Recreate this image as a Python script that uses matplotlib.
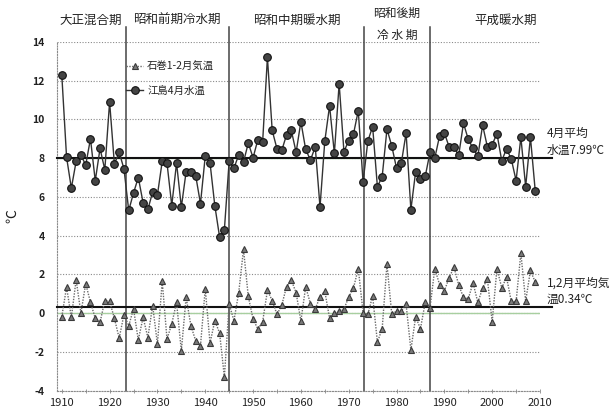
import numpy as np
import matplotlib
matplotlib.use('Agg')
import matplotlib.pyplot as plt

plt.rcParams['font.family'] = ['Noto Sans CJK JP', 'DejaVu Sans']

# 年
years = np.arange(1910, 2010)

# 江島4月水温 (℃)
water_apr = [
    12.3, 8.05, 6.45, 7.83, 8.17, 7.64, 9.0, 6.83, 8.5, 7.4,
    10.9, 7.7, 8.3, 7.45, 5.3, 6.2, 7.0, 5.7, 5.35, 6.25,
    6.1, 7.83, 7.75, 5.55, 7.75, 5.47, 7.3, 7.3, 7.1, 5.65,
    8.1, 7.75, 5.55, 3.93, 4.3, 7.85, 7.48, 8.17, 7.8, 8.78,
    8.02, 8.95, 8.83, 13.2, 9.43, 8.48, 8.4, 9.2, 9.43, 8.3,
    9.88, 8.45, 7.9, 8.58, 5.48, 8.88, 10.7, 8.24, 11.85, 8.34,
    8.9, 9.25, 10.45, 6.76, 8.88, 9.63, 6.52, 7.05, 9.5, 8.63,
    7.48, 7.74, 9.3, 5.34, 7.3, 6.9, 7.06, 8.3, 8.0, 9.15,
    9.3, 8.58, 8.55, 8.15, 9.8, 8.97, 8.5, 8.1, 9.7, 8.58,
    8.7, 9.26, 7.86, 8.48, 7.95, 6.84, 9.08, 6.53, 9.08, 6.32,
]

# 石巻1-2月気温 (℃)
air_janfeb = [
    -0.18, 1.34, -0.22, 1.72, 0.0, 1.52, 0.56, -0.27, -0.48, 0.65,
    0.61, -0.27, -1.29, -0.08, -0.65, 0.22, -1.39, -0.22, -1.26, 0.39,
    -1.6, 1.65, -1.34, -0.56, 0.56, -1.95, 0.82, -0.65, -1.43, -1.69,
    1.26, -1.55, -0.39, -1.03, -3.3, 0.46, -0.39, 1.06, 3.29, 0.86,
    -0.31, -0.82, -0.45, 1.17, 0.65, -0.07, 0.41, 1.37, 1.7, 1.05,
    -0.41, 1.36, 0.48, 0.21, 0.84, 1.13, -0.27, 0.0, 0.12, 0.21,
    0.82, 1.3, 2.3, 0.03, -0.07, 0.89, -1.5, -0.8, 2.52, -0.05,
    0.1, 0.1, 0.45, -1.9, -0.19, -0.81, 0.56, 0.27, 2.3, 1.47,
    1.15, 1.82, 2.38, 1.45, 0.81, 0.74, 1.56, 0.55, 1.29, 1.76,
    -0.45, 2.3, 1.3, 1.85, 0.6, 0.6, 3.1, 0.61, 2.2, 1.6,
]

water_mean = 7.99
air_mean = 0.34

period_bounds = [1923.4, 1945.0, 1973.3, 1987.0]
xticks = np.arange(1910, 2011, 10)
yticks = np.arange(-4, 15, 2)

fig = plt.figure(figsize=(6.11, 4.11), dpi=100)
ax = fig.add_axes([57 / 611, 1 - 390.6 / 411, (540 - 57) / 611, 348.7 / 411])

txt = '#222222'

# grid
for v in yticks:
    ax.axhline(v, color='#8a8a8a', lw=0.8, ls=(0, (1, 1.5)), zorder=1)
ax.axhline(0, color='#a8cfa0', lw=1.0, zorder=1.2)
ax.axhline(8, color='#a8cfa0', lw=1.0, zorder=1.2)

# 期間の区切り
for b in period_bounds:
    ax.plot([b, b], [-4, 14.75], color='#444444', lw=1.1, clip_on=False, zorder=2)

# 平均線
ax.plot([1909.0, 2012.5], [water_mean, water_mean], color='#111111', lw=1.5,
        clip_on=False, zorder=3)
ax.plot([1909.0, 2012.5], [air_mean, air_mean], color='#111111', lw=1.5,
        clip_on=False, zorder=3)

ax.plot(years, air_janfeb, color='#6a6a6a', lw=1.0, ls=(0, (1, 1)),
        marker='^', ms=5, mfc='#7a7a7a', mec='#3a3a3a', mew=0.8,
        label='石巻1-2月気温', zorder=4)
ax.plot(years, water_apr, color='#333333', lw=1.0,
        marker='o', ms=5.5, mfc='#444444', mec='#111111', mew=0.8,
        label='江島4月水温', zorder=5)

ax.set_xlim(1909.0, 2010.0)
ax.set_ylim(-4, 14)
ax.set_xticks(np.arange(1910, 2011, 5), minor=True)
ax.set_xticks(xticks)
ax.set_xticklabels([str(t) for t in xticks], fontsize=8, color=txt)
ax.set_yticks(yticks)
ax.set_yticklabels([str(t) for t in yticks], fontsize=7.5, color=txt,
                   fontweight='bold')
ax.tick_params(axis='y', length=0, pad=9)
ax.tick_params(axis='x', which='both', length=2.5, width=0.6,
               color='#888888', direction='inout', pad=4)

for s in ['top', 'right']:
    ax.spines[s].set_visible(False)
for s in ['left', 'bottom']:
    ax.spines[s].set_color('#8a8a8a')
    ax.spines[s].set_linewidth(0.8)
    ax.spines[s].set_linestyle((0, (1, 1.5)))

ax.set_ylabel('℃', fontsize=10, color=txt, labelpad=9)

leg = ax.legend(loc='upper left', bbox_to_anchor=(0.135, 0.955), frameon=False,
                fontsize=7.5, handlelength=1.6, handletextpad=0.4,
                labelspacing=1.35, borderaxespad=0)
for t in leg.get_texts():
    t.set_color(txt)

def ftext(x, y, s, **kw):
    fig.text(x / 611, 1 - y / 411, s, color=txt, va='center', **kw)

ftext(91, 20, '大正混合期', fontsize=9, ha='center')
ftext(177, 20, '昭和前期冷水期', fontsize=9, ha='center')
ftext(297, 20, '昭和中期暖水期', fontsize=9, ha='center')
ftext(397, 13, '昭和後期', fontsize=8.5, ha='center')
ftext(397, 35, '冷 水 期', fontsize=8.5, ha='center')
ftext(506, 20, '平成暖水期', fontsize=9, ha='center')

ftext(547, 133, '4月平均', fontsize=8.5, ha='left')
ftext(547, 150, '水温7.99℃', fontsize=8.5, ha='left')
ftext(547, 283, '1,2月平均気', fontsize=8.5, ha='left')
ftext(547, 299, '温0.34℃', fontsize=8.5, ha='left')

fig.savefig('out.png', dpi=100)
